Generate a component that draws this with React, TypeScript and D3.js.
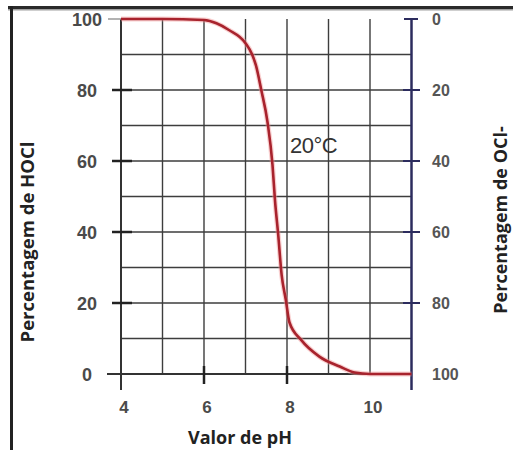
import * as React from 'react';
import * as d3 from 'd3';

// curve: pH vs % HOCl at 20ºC
const phValues = [4, 5, 6, 6.3, 6.6, 7, 7.16, 7.25, 7.38, 7.53, 7.65, 7.71, 7.79, 7.87, 7.97, 8.06, 8.34, 8.78, 9.27, 9.63, 10, 11];
const hoclValues = [100, 100, 99.7, 98.8, 96.9, 93.2, 90, 87, 80, 71, 59, 49, 39, 28, 21, 14.5, 9.6, 4.9, 2.1, 0.4, 0, 0];

const xTicks = [4, 6, 8, 10];
const leftTicks = [100, 80, 60, 40, 20, 0];
const rightTicks = [0, 20, 40, 60, 80, 100];
const xGrid = [5, 6, 7, 8, 9, 10];
const yGrid = [10, 20, 30, 40, 50, 60, 70, 80, 90];

const W = 513;
const H = 450;

const App = () => {
  const x = d3.scaleLinear().domain([4, 11]).range([121, 411.5]);
  const y = d3.scaleLinear().domain([0, 100]).range([374, 19]);
  const yR = d3.scaleLinear().domain([100, 0]).range([374, 19]);

  const pts = phValues.map((p, i) => [p, hoclValues[i]] as [number, number]);
  const line = d3
    .line<[number, number]>()
    .x(d => x(d[0]))
    .y(d => y(d[1]))
    .curve(d3.curveMonotoneX);
  const path = line(pts) || '';

  const gridColor = '#3d3d3d';
  const navy = '#2c2c5e';
  const labelFont = 'Arial, "Liberation Sans", sans-serif';
  const titleFont = '"Open Sans", sans-serif';

  return (
    <div style={{ position: 'absolute', left: 0, top: 0, width: W, height: H, background: '#fff' }}>
      <svg width={W} height={H} style={{ display: 'block' }}>
        {/* outer frame (top double rule + left edge) */}
        <rect x={8} y={6} width={W - 8} height={3} fill="#2a2a2a" />
        <rect x={8} y={9} width={W - 8} height={1.5} fill="#a0a0a0" />
        <rect x={10} y={6} width={3} height={H - 6} fill="#222" />

        {/* grid */}
        {xGrid.map(v => (
          <line key={'gx' + v} x1={x(v)} x2={x(v)} y1={y(100)} y2={y(0)} stroke={gridColor} strokeWidth={1.4} />
        ))}
        {yGrid.map(v => (
          <line key={'gy' + v} x1={x(4)} x2={x(11)} y1={y(v)} y2={y(v)} stroke={gridColor} strokeWidth={1.4} />
        ))}

        {/* left + bottom axes */}
        <line x1={x(4)} x2={x(4)} y1={y(100)} y2={390} stroke="#333" strokeWidth={2} />
        <line x1={107} x2={x(11)} y1={y(0)} y2={y(0)} stroke="#333" strokeWidth={2} />
        <line x1={108} x2={x(4)} y1={y(100)} y2={y(100)} stroke="#999" strokeWidth={1.5} />
        {leftTicks
          .filter(v => v > 0 && v < 100)
          .map(v => (
            <line key={'lt' + v} x1={112} x2={132} y1={y(v)} y2={y(v)} stroke="#222" strokeWidth={2.5} />
          ))}
        {[6, 8].map(v => (
          <line key={'xt' + v} x1={x(v)} x2={x(v)} y1={366} y2={384} stroke="#222" strokeWidth={2.5} />
        ))}

        {/* right axis */}
        <line x1={x(11)} x2={x(11)} y1={yR(0)} y2={390} stroke={navy} strokeWidth={2.5} />
        <line x1={404} x2={418} y1={yR(0)} y2={yR(0)} stroke={navy} strokeWidth={2} />
        {rightTicks
          .filter(v => v > 0 && v < 100)
          .map(v => (
            <line key={'rt' + v} x1={403} x2={420} y1={yR(v)} y2={yR(v)} stroke={navy} strokeWidth={2} />
          ))}

        {/* curve */}
        <path d={path} fill="none" stroke="#f29a9a" strokeWidth={5} strokeOpacity={0.45} />
        <path d={path} fill="none" stroke="#a8232d" strokeWidth={2.6} />

        {/* tick labels */}
        {leftTicks.map(v => (
          <text
            key={'ll' + v}
            x={87}
            y={y(v) + 6.5}
            textAnchor="middle"
            fontFamily={labelFont}
            fontWeight="bold"
            fontSize={18}
            fill="#4a4a4a"
          >
            {v}
          </text>
        ))}
        {rightTicks.map(v => (
          <text
            key={'rl' + v}
            x={432}
            y={yR(v) + 6}
            textAnchor="start"
            fontFamily={labelFont}
            fontWeight="bold"
            fontSize={16}
            fill="#555"
          >
            {v}
          </text>
        ))}
        {xTicks.map(v => (
          <text
            key={'xl' + v}
            x={x(v) + 3}
            y={413}
            textAnchor="middle"
            fontFamily={labelFont}
            fontWeight="bold"
            fontSize={17}
            fill="#4a4a4a"
          >
            {v}
          </text>
        ))}

        {/* annotation */}
        <text x={290} y={153} fontFamily={labelFont} fontSize={22} fill="#333" letterSpacing={-0.5}>
          20°C
        </text>

        {/* axis titles */}
        <text x={240} y={444} textAnchor="middle" fontFamily={titleFont} fontWeight="bold" fontSize={18} fill="#222">
          Valor de pH
        </text>
        <text
          transform={`translate(34,242) rotate(-90)`}
          textAnchor="middle"
          fontFamily={titleFont}
          fontWeight="bold"
          fontSize={18.5}
          fill="#222"
        >
          Percentagem de HOCl
        </text>
        <text
          transform={`translate(507,220) rotate(-90)`}
          textAnchor="middle"
          fontFamily={titleFont}
          fontWeight="bold"
          fontSize={18}
          fill="#222"
        >
          Percentagem de OCl-
        </text>
      </svg>
    </div>
  );
};

export default App;
